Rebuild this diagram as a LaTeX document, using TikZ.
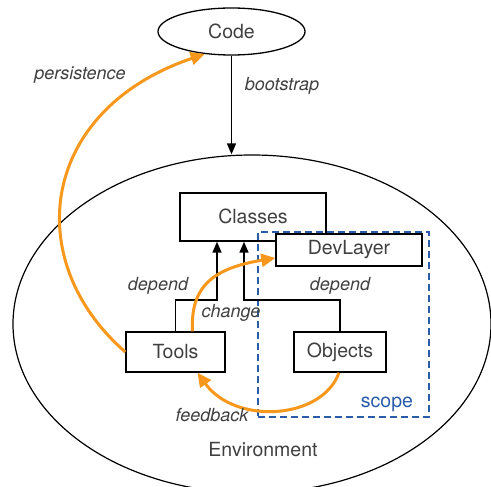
\documentclass[tikz,border=0pt]{standalone}
\usepackage{fontspec}
\setmainfont{TeX Gyre Heros}
\usetikzlibrary{arrows.meta,shapes.geometric}
\definecolor{txtgray}{HTML}{404040}
\definecolor{orangeline}{HTML}{F7981D}
\definecolor{scopeblue}{HTML}{2A5CAA}
\tikzset{
  boxnode/.style={draw=black, line width=1.4pt, fill=white, rectangle, inner sep=0pt,
    text=txtgray, font=\fontsize{19.5}{22}\selectfont},
  ellnode/.style={draw=black, line width=1.3pt, ellipse, inner sep=0pt, text=txtgray,
    font=\fontsize{19.5}{22}\selectfont},
  lbl/.style={text=txtgray, font=\fontsize{18}{21}\selectfont\itshape, inner sep=0pt},
  dep/.style={draw=black, line width=1.4pt, -{Triangle[length=11pt,width=9pt]}},
  orangearrow/.style={draw=orangeline, line width=3pt, -{Triangle[length=14pt,width=13pt]}},
  scopebox/.style={draw=scopeblue, line width=1.3pt, dash pattern=on 7pt off 4pt},
}
\begin{document}
\begin{tikzpicture}[x=1pt,y=-1pt]
\useasboundingbox (0,0) rectangle (491,487);
% environment ellipse
\node[ellnode, minimum width=478pt, minimum height=338pt, line width=1.2pt] (env) at (252,324) {};
\node[text=txtgray, font=\fontsize{19.5}{22}\selectfont, inner sep=0pt] (envlbl) at (263,450) {Environment};
% code
\node[ellnode, minimum width=147pt, minimum height=47pt] (code) at (231.5,31.5) {Code};
\draw[dep] (code.south) -- (code.south |- env.north);
\node[lbl] (bootlbl) at (282,86) {bootstrap};
% boxes
\node[boxnode, minimum width=146pt, minimum height=48pt] (classes) at (253,217) {};
\node[text=txtgray, font=\fontsize{19.5}{22}\selectfont, inner sep=0pt] (classeslbl) at (253,216) {Classes};
\node[scopebox, rectangle, minimum width=171pt, minimum height=185pt, inner sep=0pt] (scope) at (343.5,324.5) {};
\node[text=scopeblue, font=\fontsize{19.5}{22}\selectfont, inner sep=0pt] (scopelbl) at (387,404) {scope};
\node[boxnode, minimum width=146pt, minimum height=32pt] (dev) at (349,250) {DevLayer};
\node[boxnode, minimum width=99pt, minimum height=40pt] (tools) at (175.5,352) {Tools};
\node[boxnode, minimum width=92pt, minimum height=40pt] (objects) at (340,352) {Objects};
% dependency connectors
\coordinate (j1) at (217,300);
\coordinate (j2) at (244,300);
\draw[dep] (tools.north) |- (j1) -- (j1 |- classes.south);
\draw[dep] (objects.north) |- (j2) -- (j2 |- classes.south);
\node[lbl] (dep1) at (158,286) {depend};
\node[lbl] (dep2) at (340,286) {depend};
% orange arrows
\draw[orangearrow] (tools.west) .. controls (20,260) and (40,110) .. (code.220);
\node[lbl] (perslbl) at (80,75) {persistence};
\draw[orangearrow] ([xshift=17pt]tools.north) .. controls (190,285) and (215,268) .. ([yshift=-8pt]dev.west);
\node[lbl] (changelbl) at (231,313) {change};
\draw[orangearrow] ([xshift=-1pt]objects.south) .. controls (322,420) and (235,425) .. ([xshift=22pt]tools.south);
\node[lbl] (fblbl) at (212,415) {feedback};
\end{tikzpicture}
\end{document}
